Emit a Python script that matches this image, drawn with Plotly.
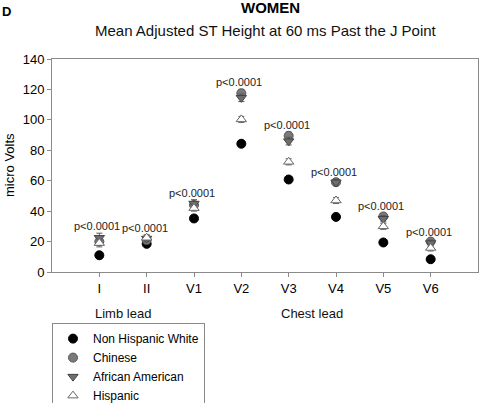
import plotly.graph_objects as go

leads = ["I", "II", "V1", "V2", "V3", "V4", "V5", "V6"]
lead_groups = ["Limb lead", "Chest lead"]
limb_leads = ["I", "II"]
chest_leads = ["V1", "V2", "V3", "V4", "V5", "V6"]

nhw = [11, 18.5, 35.2, 84.3, 60.8, 36.2, 19.4, 8.4]
chinese = [20, 21, 44, 117.5, 89.5, 59, 36.5, 20]
african_american = [22.5, 22, 45, 114.5, 86, 59, 35, 19]
hispanic = [19, 22.5, 42, 100.3, 72.4, 47, 30, 15.8]

nhw_err = [1, 1, 1, 1, 1, 1, 1, 1]
chinese_err = [2, 2, 2, 2.5, 2.5, 2, 2, 2]
african_american_err = [3, 2, 2.5, 2.5, 2.5, 2, 2, 2]
hispanic_err = [2.5, 2, 2, 2, 2, 2, 2, 2]

p_labels = ["p<0.0001"] * 8

FONT = "Arial, 'Liberation Sans', sans-serif"

series = [
    ("Non Hispanic White", nhw, nhw_err,
     dict(symbol="circle", size=9, color="#000000", line=dict(color="#000000", width=1)), "#000000"),
    ("Chinese", chinese, chinese_err,
     dict(symbol="circle", size=9, color="#7a7a7a", line=dict(color="#555555", width=1)), "#555555"),
    ("African American", african_american, african_american_err,
     dict(symbol="triangle-down", size=9, color="#6e6e6e", line=dict(color="#444444", width=1)), "#555555"),
    ("Hispanic", hispanic, hispanic_err,
     dict(symbol="triangle-up", size=9, color="#ffffff", line=dict(color="#666666", width=1)), "#666666"),
]

fig = go.Figure()
for name, vals, errs, marker, ecol in series:
    fig.add_trace(go.Scatter(
        x=leads, y=vals, mode="markers", name=name, marker=marker,
        error_y=dict(type="data", array=errs, visible=True, color=ecol, thickness=1, width=3),
    ))

annotations = []
for i, lead in enumerate(leads):
    top = max(v[i] + e[i] for _, v, e, _, _ in series)
    annotations.append(dict(
        x=lead, y=top, xref="x", yref="y", text=p_labels[i], showarrow=False,
        yanchor="bottom", xanchor="center", yshift=-1, xshift=-2,
        font=dict(family=FONT, size=11, color="#222222"),
    ))

# group labels under the axis
for grp, members in zip(lead_groups, [limb_leads, chest_leads]):
    idx = [leads.index(m) for m in members]
    annotations.append(dict(
        x=sum(idx) / len(idx), y=-0.1925, xref="x", yref="paper", text=grp,
        showarrow=False, yanchor="middle", xanchor="center",
        font=dict(family=FONT, size=13, color="#111111"),
    ))

annotations.append(dict(
    x=0.0, y=1.0, xref="paper", yref="paper", text="<b>D</b>", showarrow=False,
    xanchor="left", yanchor="top", xshift=-52, yshift=59 - 2,
    font=dict(family=FONT, size=13, color="#000000"),
))
annotations.append(dict(
    x=(270 - 52) / 426, y=1.0, xref="paper", yref="paper", text="<b>WOMEN</b>", showarrow=False,
    xanchor="center", yanchor="top", yshift=59 + 3,
    font=dict(family=FONT, size=15, color="#000000"),
))
annotations.append(dict(
    x=(266 - 52) / 426, y=1.0, xref="paper", yref="paper",
    text="Mean Adjusted ST Height at 60 ms Past the J Point", showarrow=False,
    xanchor="center", yanchor="top", yshift=59 - 20,
    font=dict(family=FONT, size=15, color="#111111"),
))
annotations.append(dict(
    x=0.0, y=0.5, xref="paper", yref="paper", text="micro Volts", showarrow=False,
    textangle=-90, xanchor="left", yanchor="middle", xshift=-52,
    font=dict(family=FONT, size=13, color="#000000"),
))

fig.update_layout(
    width=480, height=403,
    margin=dict(l=52, r=2, t=59, b=131, autoexpand=False),
    paper_bgcolor="white", plot_bgcolor="white",
    font=dict(family=FONT, size=13, color="#000000"),
    showlegend=True,
    legend=dict(
        x=0, xanchor="left", y=-0.24, yanchor="top",
        bordercolor="#8a8a8a", borderwidth=1, bgcolor="white",
        font=dict(family=FONT, size=12, color="#000000"),
        tracegroupgap=0, itemwidth=30,
    ),
    annotations=annotations,
    xaxis=dict(
        type="category", categoryorder="array", categoryarray=leads,
        range=[-1, 8], showgrid=False, zeroline=False,
        showline=True, linecolor="#8a8a8a", linewidth=1, mirror=True,
        ticks="outside", ticklen=4, tickcolor="#8a8a8a",
        tickfont=dict(family=FONT, size=13, color="#000000"),
    ),
    yaxis=dict(
        range=[0, 140], dtick=20, showgrid=False, zeroline=False,
        showline=True, linecolor="#8a8a8a", linewidth=1, mirror=True,
        ticks="outside", ticklen=4, tickcolor="#8a8a8a",
        tickfont=dict(family=FONT, size=13, color="#000000"),
    ),
)

fig.write_html(
    "out.html",
    config={"displayModeBar": False},
    post_script="document.body.style.margin='0';document.body.style.padding='0';",
)
